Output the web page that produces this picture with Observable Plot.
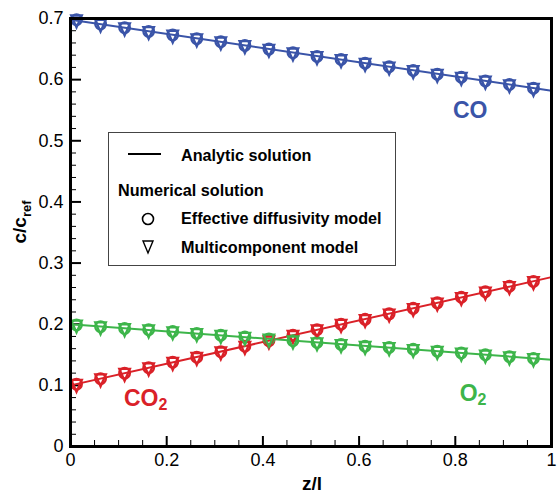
<!DOCTYPE html>
<html>
<head>
<meta charset="utf-8">
<script src="https://cdn.jsdelivr.net/npm/d3@7"></script>
<script src="https://cdn.jsdelivr.net/npm/@observablehq/plot@0.6"></script>
<style>
  html, body { margin: 0; padding: 0; background: #fff; }
  #wrap { position: relative; width: 557px; height: 493px; font-family: Arial, "Liberation Sans", sans-serif; }
  #legend { position: absolute; left: 108px; top: 132px; width: 288px; height: 134px; border: 1.3px solid #444; box-sizing: border-box; background: #fff; }
  #legend svg { position: absolute; left: 0; top: 0; }
</style>
</head>
<body>
<div id="wrap"></div>
<script>
// ---- data ----
const zPoints = [0.0125, 0.0625, 0.1125, 0.1625, 0.2125, 0.2625, 0.3125, 0.3625, 0.4125, 0.4625,
                 0.5125, 0.5625, 0.6125, 0.6625, 0.7125, 0.7625, 0.8125, 0.8625, 0.9125, 0.9625];
const coValues  = [0.698, 0.691, 0.685, 0.679, 0.673, 0.667, 0.662, 0.656, 0.650, 0.644,
                   0.638, 0.633, 0.627, 0.621, 0.615, 0.609, 0.604, 0.598, 0.592, 0.586];
const co2Values = [0.102, 0.111, 0.120, 0.129, 0.138, 0.146, 0.155, 0.164, 0.173, 0.182,
                   0.191, 0.200, 0.208, 0.217, 0.226, 0.235, 0.244, 0.253, 0.262, 0.270];
const o2Values  = [0.199, 0.196, 0.193, 0.191, 0.188, 0.185, 0.182, 0.179, 0.176, 0.173,
                   0.170, 0.167, 0.164, 0.162, 0.159, 0.156, 0.153, 0.150, 0.147, 0.144];
const lineZ = [0, 1];
const coLine  = [0.698, 0.582];
const co2Line = [0.100, 0.277];
const o2Line  = [0.200, 0.142];
const xTicks = [0, 0.2, 0.4, 0.6, 0.8, 1];
const yTicks = [0, 0.1, 0.2, 0.3, 0.4, 0.5, 0.6, 0.7];
const xMinor = [0.05, 0.1, 0.15, 0.25, 0.3, 0.35, 0.45, 0.5, 0.55, 0.65, 0.7, 0.75, 0.85, 0.9, 0.95];
const yMinor = [0.02, 0.04, 0.06, 0.08, 0.12, 0.14, 0.16, 0.18, 0.22, 0.24, 0.26, 0.28,
                0.32, 0.34, 0.36, 0.38, 0.42, 0.44, 0.46, 0.48, 0.52, 0.54, 0.56, 0.58,
                0.62, 0.64, 0.66, 0.68];
const species = ["CO", "CO2", "O2"];
const colors = {"CO": "#3A54A8", "CO2": "#DA2128", "O2": "#3DB54A"};
const speciesLabels = [
  {name: "CO", main: "CO", sub: "", x: 0.795, y: 0.537},
  {name: "CO2", main: "CO", sub: "2", x: 0.111, y: 0.067},
  {name: "O2", main: "O", sub: "2", x: 0.809, y: 0.074}
];

// ---- build tables ----
const valuesBy = {"CO": coValues, "CO2": co2Values, "O2": o2Values};
const linesBy = {"CO": coLine, "CO2": co2Line, "O2": o2Line};
const points = species.flatMap(s => zPoints.map((z, i) => ({s, z, c: valuesBy[s][i]})));
const lines = species.flatMap(s => lineZ.map((z, i) => ({s, z, c: linesBy[s][i]})));

const invTriangle = {
  draw(ctx, size) {
    const r = Math.sqrt(size / Math.PI);
    ctx.moveTo(-1.0 * r, -0.8 * r);
    ctx.lineTo(1.0 * r, -0.8 * r);
    ctx.lineTo(0, 1.45 * r);
    ctx.closePath();
  }
};

const W = 557, H = 493, mL = 70, mR = 6, mT = 18, mB = 47;
const fw = W - mL - mR, fh = H - mT - mB;

const chart = Plot.plot({
  width: W, height: H,
  marginLeft: mL, marginRight: mR, marginTop: mT, marginBottom: mB,
  style: {fontFamily: 'Arial, "Liberation Sans", sans-serif', color: "#000", background: "#fff"},
  x: {domain: [0, 1], label: null},
  y: {domain: [0, 0.7], label: null},
  color: {domain: species, range: species.map(s => colors[s])},
  marks: [
    Plot.axisX({ticks: xTicks, tickSize: 0, tickPadding: 7, fontSize: 18, tickFormat: d => String(d), label: null}),
    Plot.axisY({ticks: yTicks, tickSize: 0, tickPadding: 7, fontSize: 18, tickFormat: d => String(d), label: null}),
    Plot.ruleX(xTicks, {x: d => d, insetTop: fh - 10, stroke: "#000", strokeWidth: 2}),
    Plot.ruleX(xMinor, {x: d => d, insetTop: fh - 6, stroke: "#000", strokeWidth: 1}),
    Plot.ruleY(yTicks, {y: d => d, insetRight: fw - 11, stroke: "#000", strokeWidth: 2}),
    Plot.ruleY(yMinor, {y: d => d, insetRight: fw - 6, stroke: "#000", strokeWidth: 1}),
    Plot.line(lines, {x: "z", y: "c", z: "s", stroke: "s", strokeWidth: 2}),
    Plot.dot(points, {x: "z", y: "c", stroke: "s", r: 5.3, strokeWidth: 2.3, symbol: "circle"}),
    Plot.dot(points, {x: "z", y: "c", stroke: "s", r: 5.3, strokeWidth: 2.3, symbol: invTriangle}),
    Plot.text(speciesLabels, {x: "x", y: "y", text: "main", fill: d => d.name, textAnchor: "start",
      lineAnchor: "bottom", fontSize: 23, fontWeight: "bold", className: "splabel"}),
    Plot.frame({stroke: "#000", strokeWidth: 3})
  ]
});

document.getElementById("wrap").appendChild(chart);
const svg = d3.select(chart);

// subscripts on species labels
svg.selectAll("g.splabel text").each(function(d, i) {
  const lab = speciesLabels[i];
  if (lab && lab.sub) {
    d3.select(this).append("tspan").attr("font-size", 16).attr("dy", "0.25em").text(lab.sub);
  }
});

// axis titles
const yl = svg.append("text")
  .attr("transform", `translate(26,${mT + fh / 2 - 10}) rotate(-90)`)
  .attr("text-anchor", "middle")
  .attr("font-weight", "bold").attr("font-size", 19).attr("fill", "#000");
yl.append("tspan").text("c/c");
yl.append("tspan").attr("font-size", 13).attr("dy", "0.35em").text("ref");

svg.append("text")
  .attr("x", 312).attr("y", 490)
  .attr("text-anchor", "middle")
  .attr("font-weight", "bold").attr("font-size", 19).attr("fill", "#000")
  .text("z/l");

// legend
const legend = document.createElement("div");
legend.id = "legend";
legend.innerHTML = `
<svg width="288" height="134" font-family='Arial, "Liberation Sans", sans-serif' font-weight="bold" font-size="16.2">
  <line x1="19" x2="52" y1="21" y2="21" stroke="#000" stroke-width="2"/>
  <text x="72" y="28">Analytic solution</text>
  <text x="9" y="63">Numerical solution</text>
  <circle cx="39" cy="86" r="5.5" fill="none" stroke="#000" stroke-width="1.6"/>
  <text x="72" y="91">Effective diffusivity model</text>
  <polygon points="34,108 44,108 39,120" fill="none" stroke="#000" stroke-width="1.4"/>
  <text x="72" y="120">Multicomponent model</text>
</svg>`;
document.getElementById("wrap").appendChild(legend);
</script>
</body>
</html>
